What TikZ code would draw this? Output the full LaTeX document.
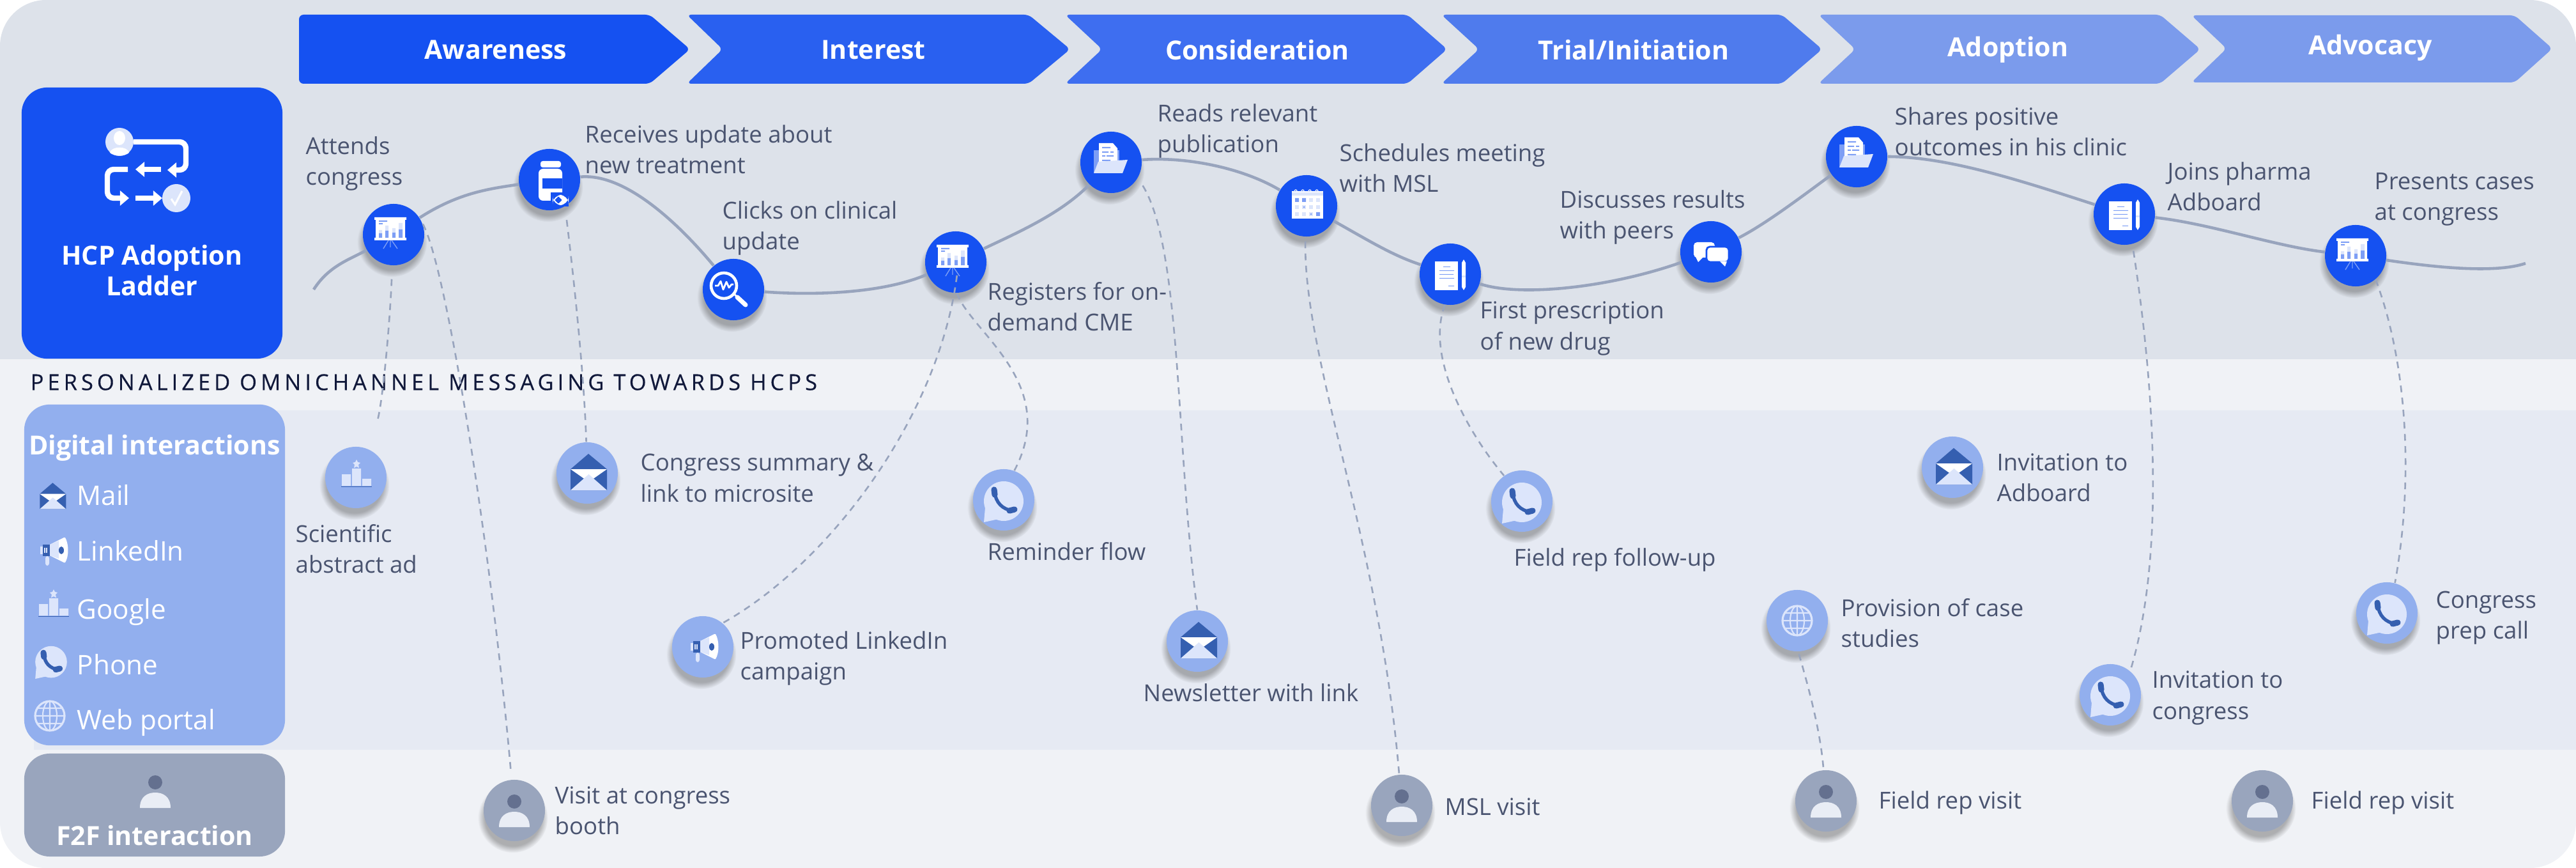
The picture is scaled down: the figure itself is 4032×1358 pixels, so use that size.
\documentclass[tikz,border=0pt]{standalone}
\usepackage{fontspec}
\setmainfont{Open Sans}
\newfontfamily\spaced[LetterSpace=17.5,FakeBold=0.35]{Open Sans}
\usetikzlibrary{shapes,arrows,arrows.meta,shadows,fadings}

\definecolor{hcpblue}{HTML}{1551F1}
\definecolor{softblue}{HTML}{DCE5FB}
\definecolor{midblue}{HTML}{7D9EF5}
\definecolor{deepblue}{HTML}{355FB0}
\definecolor{lightdisc}{HTML}{92AFEE}
\definecolor{greydisc}{HTML}{99A5BD}
\definecolor{greyhead}{HTML}{64708F}
\definecolor{wavecol}{HTML}{98A4BD}
\definecolor{ink}{HTML}{4A5470}
\definecolor{navy}{HTML}{10183A}

\tikzset{
	softshadow/.style={general shadow={fill=black!75,opacity=.38,shadow xshift=-.02cm,shadow yshift=-.1cm,shadow scale=1.14,path fading=circle with fuzzy edge 20 percent}},
	bluedot/.style={circle,inner sep=0,minimum size=.96cm,fill=hcpblue,softshadow},
	lightdot/.style={circle,inner sep=0,minimum size=.96cm,fill=lightdisc,softshadow},
	greydot/.style={circle,inner sep=0,minimum size=.96cm,fill=greydisc,softshadow},
	lbl/.style={anchor=west,align=left,inner sep=0,text=ink,font=\fontsize{10.4pt}{13.7pt}\selectfont},
	stage/.style={text=white,inner sep=0,font=\fontsize{11.7pt}{15pt}\selectfont\bfseries},
	boxtitle/.style={text=white,inner sep=0,align=center,font=\fontsize{11.7pt}{13.8pt}\selectfont\bfseries},
	legend/.style={anchor=west,text=white,inner sep=0,font=\fontsize{12pt}{14pt}\selectfont},
	wave/.style={wavecol,line width=1.3pt},
	dashlink/.style={wavecol,line width=.75pt,dash pattern=on 3pt off 2.4pt,shorten <=6pt},
	headtip/.style={-{Triangle[width=6.5pt,length=4pt]}},
	pics/easel/.style={code={
		\fill [white] (-30,-27) rectangle (20,-23) (-28,-23) rectangle (18,5) (-30,5) rectangle (20,9);
		\fill [softblue] (-23,-7) rectangle (-18,5) (-13,-14) rectangle (-8,5) (-2,-10) rectangle (3,5) (8,-18) rectangle (14,5);
		\fill [midblue] (-23,-2) rectangle (-18,5) (-13,-6) rectangle (-8,5) (-2,-3) rectangle (3,5) (8,-8) rectangle (14,5);
		\fill [midblue] (-23,-22) rectangle (-10,-20) (-23,-18) rectangle (-17,-16);
		\draw [midblue,line width=.4pt] (-8,9) -- (-16,22) (-5,9) -- (-5,20) (-3,9) -- (6,22);
	}},
	pics/bottle/.style={code={
		\fill [white,rounded corners=1pt] (-14,-29) rectangle (18,-19);
		\fill [white,rounded corners=2pt] (-17,-17) rectangle (20,33);
		\fill [hcpblue] (-11,-2) rectangle (20,14);
		\fill [hcpblue] (2,20) rectangle (30,42);
		\fill [white,rounded corners=4pt] (5,24) rectangle (30,40);
		\fill [hcpblue,rounded corners=2pt] (9,27) rectangle (19,37);
	}},
	pics/lens/.style={code={
		\draw [white,line width=1.3pt] (-15,-6) circle (20);
		\draw [white,line width=.8pt,line join=round] (-29,-6) -- (-24,-6) -- (-20,-13) -- (-16,0) -- (-11,-12) -- (-7,-3) -- (-3,-8) -- (0,-8);
		\draw [white,line width=.8pt] (1,7) -- (6,12);
		\draw [white,line width=2pt,line cap=round] (6,12) -- (19,24);
	}},
	pics/docfolder/.style={code={
		\fill [midblue] (-27,-19) rectangle (13,16);
		\fill [white] (-19,-30) -- (3,-30) -- (10,-22) -- (10,5) -- (-19,5) -- cycle;
		\fill [midblue] (-14,-24) rectangle (-1,-22) (-14,-17) rectangle (-4,-15) (-1,-17) rectangle (4,-15) (-14,-11) rectangle (-9,-9) (-7,-11) rectangle (4,-9) (-14,-4) rectangle (-1,-2);
		\fill [softblue] (-20,-1) -- (26,-4) -- (18,17) -- (-27,17) -- cycle;
	}},
	pics/calendar/.style={code={
		\fill [white] (-23,-23) rectangle (26,20);
		\fill [softblue] (-23,-21) rectangle (26,-16);
		\foreach \x in {-15,-4,7,18}{
			\draw [softblue,line width=.4pt] (\x,-23) arc (0:-200:2) ;
			\foreach \y in {-9,2,13}
				\fill [softblue] (\x-3,\y-3) rectangle (\x+3,\y+3);
		}
		\fill [midblue] (-18,-12) rectangle (-12,-6) (-7,-12) rectangle (-1,-6) (15,10) rectangle (21,16);
		\fill [midblue] (-4,2) circle (1.5) (7,13) circle (1.5);
	}},
	pics/notepad/.style={code={
		\fill [white] (-24,-20) rectangle (12,25);
		\foreach \x in {-18,-7,4}
			\draw [white,line width=.4pt] (\x,-18) arc (-60:240:3);
		\fill [midblue] (-11,-12) rectangle (0,-11) (-17,-6) rectangle (6,-5) (-17,0) rectangle (5,1) (-17,6) rectangle (6,7) (-3,18) rectangle (6,19);
		\fill [white] (18,-18) -- (21,-23) -- (24,-18) -- (24,20) -- (21,25) -- (18,20) -- cycle;
		\fill [softblue] (18,2) rectangle (24,5);
	}},
	pics/speech/.style={code={
		\fill [white,rounded corners=1.5pt] (-27,-15) rectangle (6,9);
		\fill [white] (-24,8) -- (-20,16) -- (-12,8) -- cycle;
		\draw [hcpblue,fill=white,line width=.8pt,rounded corners=1.5pt] (-7,-8) rectangle (28,16);
		\fill [white] (14,15) -- (22,23) -- (25,15) -- cycle;
	}},
	pics/mailicon/.style={code={
		\fill [deepblue] (2,-30) -- (31,-6) -- (31,27) -- (-26,27) -- (-26,-6) -- cycle;
		\fill [white] (-26,-6) -- (31,-6) -- (2.5,14) -- cycle;
		\fill [softblue] (-26,27) -- (31,27) -- (2.5,2) -- cycle;
	}},
	pics/phoneicon/.style={code={
		\fill [softblue] (0,2) circle (31);
		\fill [softblue] (-29,12) -- (-31,35) -- (-8,30) -- cycle;
		\draw [deepblue,line width=1.5pt,line cap=round] (-14,-13) .. controls (-13,4) and (-2,15) .. (14,17);
		\draw [deepblue,line width=2.6pt,line cap=round] (-15,-16) -- (-14,-8) (9,17) -- (17,15);
	}},
	pics/megaphone/.style={code={
		\fill [white] (-4,-9) -- (18,-20) -- (20,-20) .. controls (26,-10) and (26,10) .. (20,19) -- (18,19) -- (-4,8) -- cycle;
		\fill [softblue] (-4,-9) -- (10,-15) -- (10,13) -- (-4,8) -- cycle;
		\fill [deepblue] (-15,-9) rectangle (-4,9);
		\fill [softblue] (-19,-6) rectangle (-15,6);
		\fill [softblue,rounded corners=1pt] (-11,9) rectangle (-5,24);
		\fill [deepblue] (14,0) ellipse (4 and 6);
		\draw [softblue,line width=.3pt] (-12,-4) -- (-12,4) (-9,-4) -- (-9,4);
	}},
	pics/podium/.style={code={
		\fill [softblue] (-22,-5) rectangle (-8,13) (-6,-14) rectangle (8,13) (10,2) rectangle (24,13);
		\fill [deepblue] (-23,14) rectangle (25,15);
		\fill [softblue] (1,-28) -- (3,-24) -- (7,-23) -- (4,-20) -- (5,-15) -- (1,-17) -- (-3,-15) -- (-2,-20) -- (-5,-23) -- (-1,-24) -- cycle;
	}},
	pics/globe/.style={code={
		\draw [softblue,line width=.9pt] (0,0) circle (23);
		\draw [softblue,line width=.6pt] (0,0) ellipse (11 and 23) (0,-23) -- (0,23) (-23,0) -- (23,0) (-19,-12) -- (19,-12) (-19,12) -- (19,12);
	}},
	pics/personicon/.style={code={
		\fill [greyhead] (0,-14) ellipse (11 and 11);
		\fill [softblue!60!greydisc!35!white] (-24,26) .. controls (-24,8) and (-12,2) .. (0,2) .. controls (12,2) and (24,8) .. (24,26) -- cycle;
	}},
}

\begin{document}
\begin{tikzpicture}[x=.01cm,y=-.01cm,>=triangle 45]

\useasboundingbox (0,0) rectangle (4032,1358);
\begin{scope}
	\clip [rounded corners=.72cm] (0,0) rectangle (4032,1358);
	\fill [fill=white] (0,0) rectangle (4032,1358);
	\fill [color={rgb,255:red,221;green,226;blue,234}] (0,0) rectangle (4032,562); %top band
	\fill [color={rgb,255:red,240;green,242;blue,246}] (0,562) rectangle (4032,1358);
	\fill [color={rgb,255:red,230;green,234;blue,243}] (53,642) rectangle (4032,1173); %digital band
\end{scope}

%stage arrows
\fill [color={rgb,255:red,21;green,81;blue,241},rounded corners=2pt] (468,23) -- (1017,23) -- (1080,77) -- (1017,131) -- (468,131) -- cycle;
\fill [color={rgb,255:red,41;green,96;blue,240},rounded corners=2pt] (1075,23) -- (1610,23) -- (1675,77) -- (1610,131) -- (1075,131) -- (1131,77) -- cycle;
\fill [color={rgb,255:red,62;green,110;blue,240},rounded corners=2pt] (1667,23) -- (2203,23) -- (2265,77) -- (2203,131) -- (1667,131) -- (1725,77) -- cycle;
\fill [color={rgb,255:red,79;green,123;blue,237},rounded corners=2pt] (2256,23) -- (2789,23) -- (2852,77) -- (2789,131) -- (2256,131) -- (2315,77) -- cycle;
\fill [color={rgb,255:red,123;green,155;blue,236},rounded corners=2pt] (2846,23) -- (3381,23) -- (3444,77) -- (3381,131) -- (2846,131) -- (2904,77) -- cycle;
\fill [color={rgb,255:red,123;green,155;blue,236},rounded corners=2pt] (3430,24) -- (3936,24) -- (3995,76) -- (3936,129) -- (3430,129) -- (3485,76) -- cycle;
\node [stage] (awareness) at (776,78) {Awareness};
\node [stage] (interest) at (1367,78) {Interest};
\node [stage] (consideration) at (1968,78) {Consideration};
\node [stage] (trial) at (2557,78) {Trial/Initiation};
\node [stage] (adoption) at (3143,78) {Adoption};
\node [stage] (advocacy) at (3710,75) {Advocacy};

%left boxes
\node [fill=hcpblue,rounded corners=.4cm,minimum width=4.08cm,minimum height=4.24cm,inner sep=0] (ladderbox) at (238,349) {};
\node [boxtitle] (laddertext) at (238,423) {HCP Adoption\\Ladder};
\fill [softblue] (187,222) circle (22);
\fill [softblue] (276,310) circle (22);
\fill [white] (187,216) ellipse (9 and 11);
\fill [white] (172,239) .. controls (174,228) and (200,228) .. (202,239) .. controls (195,245) and (179,245) .. (172,239) -- cycle;
\draw [white,line width=.9pt] (268,311) -- (274,320) -- (285,299);
\draw [headtip,white,line width=2.4pt,rounded corners=.1cm] (209,222) -- (291,222) -- (291,266) -- (262,266); %first turn
\draw [headtip,white,line width=2.4pt] (252,265) -- (212,265);
\draw [headtip,white,line width=2.4pt,rounded corners=.1cm] (200,265) -- (168,265) -- (168,310) -- (202,310);
\draw [headtip,white,line width=2.4pt] (212,310) -- (254,310);

\node [fill=lightdisc,rounded corners=.4cm,minimum width=4.08cm,minimum height=5.33cm,inner sep=0] (digitalbox) at (242,899.5) {};
\node [boxtitle] (digitaltext) at (242,701) {Digital interactions};
\node [legend] (mailtext) at (120,775) {Mail};
\node [legend] (linkedintext) at (120,862) {LinkedIn};
\node [legend] (googletext) at (120,958) {Google};
\node [legend] (phonetext) at (120,1040) {Phone};
\node [legend] (webtext) at (120,1131) {Web portal};
\pic [scale=.72] at (81,777) {mailicon};
\pic at (82,861) {megaphone};
\pic at (83,950) {podium};
\pic [scale=.8] at (80,1034) {phoneicon};
\pic at (78,1120) {globe};

\node [fill=greydisc,rounded corners=.4cm,minimum width=4.08cm,minimum height=1.61cm,inner sep=0] (f2fbox) at (242,1259.5) {};
\node [boxtitle] (f2ftext) at (242,1307) {F2F interaction};
\pic at (243,1238) {personicon};

%banner
\node [anchor=west,inner sep=0,text=navy,font=\fontsize{9.8pt}{11pt}\selectfont\spaced] (banner) at (47,598) {PERSONALIZED OMNICHANNEL MESSAGING TOWARDS HCPS};

%ladder steps
\node [bluedot] (attends) at (616,367) {};
\node [bluedot] (receives) at (860,281) {};
\node [bluedot] (clicks) at (1148,453) {};
\node [bluedot] (registers) at (1496,410) {};
\node [bluedot] (reads) at (1739,254) {};
\node [bluedot] (schedules) at (2045,322) {};
\node [bluedot] (prescribes) at (2270,429) {};
\node [bluedot] (discusses) at (2678,394) {};
\node [bluedot] (shares) at (2906,245) {};
\node [bluedot] (joins) at (3325,335) {};
\node [bluedot] (presents) at (3687,400) {};
\coordinate (wavestart) at (491,453);
\coordinate (waveend) at (3953,412);

%digital and f2f touchpoints
\node [lightdot] (abstract) at (557,747) {};
\node [lightdot] (summary) at (919,740) {};
\node [lightdot] (promoted) at (1100,1012) {};
\node [lightdot] (reminder) at (1571,782) {};
\node [lightdot] (newsletter) at (1874,1003) {};
\node [lightdot] (followup) at (2382,784) {};
\node [lightdot] (invadboard) at (3056,731) {};
\node [lightdot] (casestudies) at (2813,971) {};
\node [lightdot] (invcongress) at (3303,1087) {};
\node [lightdot] (prepcall) at (3736,959) {};
\node [greydot] (booth) at (805,1268) {};
\node [greydot] (mslvisit) at (2194,1260) {};
\node [greydot] (repvisita) at (2858,1253) {};
\node [greydot] (repvisitb) at (3541,1253) {};

%icons
\pic at (attends) {easel};
\pic at (receives) {bottle};
\pic at (clicks) {lens};
\pic at (registers) {easel};
\pic at (reads) {docfolder};
\pic at (schedules) {calendar};
\pic at (prescribes) {notepad};
\pic at (discusses) {speech};
\pic at (shares) {docfolder};
\pic at (joins) {notepad};
\pic at (presents) {easel};
\pic at (abstract) {podium};
\pic at (summary) {mailicon};
\pic at (promoted) {megaphone};
\pic at (reminder) {phoneicon};
\pic at (newsletter) {mailicon};
\pic at (followup) {phoneicon};
\pic at (invadboard) {mailicon};
\pic at (casestudies) {globe};
\pic at (invcongress) {phoneicon};
\pic at (prepcall) {phoneicon};
\pic at (booth) {personicon};
\pic at (mslvisit) {personicon};
\pic at (repvisita) {personicon};
\pic at (repvisitb) {personicon};

%curve of the ladder
\draw [wave] (wavestart) .. controls (515,415) and (550,405) .. (attends);
\draw [wave] (attends) .. controls (720,300) and (770,295) .. (receives);
\draw [wave] (receives) .. controls (985,270) and (1075,365) .. (clicks);
\draw [wave] (clicks) .. controls (1270,462) and (1380,460) .. (registers);
\draw [wave] (registers) .. controls (1590,365) and (1660,335) .. (reads);
\draw [wave] (reads) .. controls (1850,245) and (1940,260) .. (schedules);
\draw [wave] (schedules) .. controls (2140,375) and (2180,400) .. (prescribes);
\draw [wave] (prescribes) .. controls (2380,465) and (2520,450) .. (discusses);
\draw [wave] (discusses) .. controls (2765,350) and (2830,300) .. (shares);
\draw [wave] (shares) .. controls (3050,245) and (3170,285) .. (joins);
\draw [wave] (joins) .. controls (3460,350) and (3560,385) .. (presents);
\draw [wave] (presents) .. controls (3790,415) and (3900,430) .. (waveend);

%dashed links
\draw [dashlink,shorten >=12pt] (attends) .. controls (610,510) and (598,640) .. (abstract);
\draw [dashlink,shorten <=0pt,shorten >=4pt] (attends.20) .. controls (700,420) and (770,870) .. (booth);
\draw [dashlink,shorten >=0pt] (receives.-60) .. controls (900,450) and (915,600) .. (summary);
\draw [dashlink,shorten <=-8pt] (registers.-92) .. controls (1470,650) and (1300,880) .. (promoted.50);
\draw [dashlink,shorten <=0pt] (registers.-88) .. controls (1520,520) and (1660,600) .. (reminder.70);
\draw [dashlink,shorten <=4pt] (reads.-30) .. controls (1850,390) and (1840,700) .. (newsletter.90);
\draw [dashlink,shorten <=2pt] (schedules.-92) .. controls (2040,560) and (2160,850) .. (mslvisit);
\draw [dashlink,shorten <=0pt] (prescribes.-100) .. controls (2230,560) and (2300,680) .. (followup.125);
\draw [dashlink,shorten <=1pt] (casestudies.-88) .. controls (2835,1090) and (2850,1150) .. (repvisita);
\draw [dashlink,shorten <=3pt] (joins.-75) .. controls (3365,560) and (3395,850) .. (invcongress.50);
\draw [dashlink,shorten <=0pt] (presents.-50) .. controls (3765,560) and (3780,740) .. (prepcall.75);

%labels
\node [lbl] (attendstext) at (478,256) {Attends\\congress};
\node [lbl] (receivestext) at (915,234) {Receives update about\\new treatment};
\node [lbl] (clickstext) at (1130,357) {Clicks on clinical\\update};
\node [lbl] (registerstext) at (1545,480) {Registers for on-\\demand CME};
\node [lbl] (readstext) at (1811,205) {Reads relevant\\publication};
\node [lbl] (schedulestext) at (2096,263) {Schedules meeting\\with MSL};
\node [lbl] (prescribestext) at (2316,514) {First prescription\\of new drug};
\node [lbl] (discussestext) at (2441,340) {Discusses results\\with peers};
\node [lbl] (sharestext) at (2965,206) {Shares positive\\outcomes in his clinic};
\node [lbl] (joinstext) at (3392,292) {Joins pharma\\Adboard};
\node [lbl] (presentstext) at (3716,312) {Presents cases\\at congress};
\node [lbl] (abstracttext) at (462,859) {Scientific\\abstract ad};
\node [lbl] (summarytext) at (1002,748) {Congress summary \&\\link to microsite};
\node [lbl] (promotedtext) at (1158,1030) {Promoted LinkedIn\\campaign};
\node [lbl] (remindertext) at (1545,863) {Reminder flow};
\node [lbl] (newslettertext) at (1789,1084) {Newsletter with link};
\node [lbl] (boothtext) at (868,1268) {Visit at congress\\booth};
\node [lbl] (msltext) at (2261,1262) {MSL visit};
\node [lbl] (repatext) at (2940,1256) {Field rep visit};
\node [lbl] (repbtext) at (3617,1256) {Field rep visit};
\node [lbl] (followuptext) at (2369,876) {Field rep follow-up};
\node [lbl] (adboardtext) at (3125,747) {Invitation to\\Adboard};
\node [lbl] (casetext) at (2881,975) {Provision of case\\studies};
\node [lbl] (congresstext) at (3368,1092) {Invitation to\\congress};
\node [lbl] (preptext) at (3812,967) {Congress\\prep call};

\end{tikzpicture}
\end{document}
